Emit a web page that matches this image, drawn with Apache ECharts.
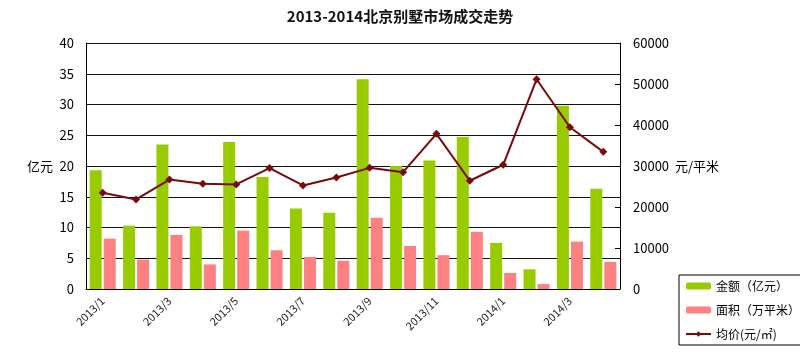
<!DOCTYPE html>
<html>
<head>
<meta charset="utf-8">
<script src="https://cdn.jsdelivr.net/npm/echarts@6/dist/echarts.min.js"></script>
<style>
  html, body { margin: 0; padding: 0; background: #fff; }
  #chart { width: 800px; height: 352px; }
</style>
</head>
<body>
<div id="chart"></div>
<script>
// 月份
const months = ['2013/1', '2013/2', '2013/3', '2013/4', '2013/5', '2013/6', '2013/7', '2013/8',
  '2013/9', '2013/10', '2013/11', '2013/12', '2014/1', '2014/2', '2014/3', '2014/4']
// 金额（亿元）
const amount = [19.3, 10.3, 23.5, 10.2, 23.9, 18.2, 13.1, 12.4, 34.1, 20.0, 20.9, 24.7, 7.5, 3.2, 29.8, 16.3]
// 面积（万平米）
const area = [8.2, 4.8, 8.8, 4.0, 9.5, 6.3, 5.2, 4.6, 11.6, 7.0, 5.5, 9.3, 2.6, 0.8, 7.7, 4.4]
// 均价（元/平米）
const price = [23450, 21850, 26700, 25650, 25500, 29500, 25250, 27200, 29550, 28500, 37850, 26400, 30300, 51150, 39450, 33450]

const font = '"Noto Sans CJK SC", "Liberation Sans", sans-serif'
const chart = echarts.init(document.getElementById('chart'), null, { renderer: 'canvas' })

const option = {
  animation: false,
  backgroundColor: '#fff',
  textStyle: { fontFamily: font, color: '#000' },
  title: {
    text: '2013-2014北京别墅市场成交走势',
    left: 'center',
    top: 4,
    textStyle: { fontSize: 15, fontWeight: 'bold', color: '#111', fontFamily: font }
  },
  legend: {
    orient: 'vertical',
    left: 679,
    top: 275,
    padding: [5, 8, 5, 6],
    itemGap: 12,
    itemWidth: 25,
    itemHeight: 7,
    borderColor: '#000',
    borderWidth: 1,
    textStyle: { fontSize: 12, color: '#000', fontFamily: font },
    data: ['金额（亿元）', '面积（万平米）', '均价(元/㎡)']
  },
  grid: {
    left: 86,
    right: 180,
    top: 43,
    bottom: 63
  },
  xAxis: {
    type: 'category',
    data: months,
    axisLine: { lineStyle: { color: '#000', width: 1 } },
    axisTick: { show: false },
    axisLabel: {
      interval: 1,
      rotate: 45,
      fontSize: 11,
      color: '#222',
      margin: 10
    }
  },
  yAxis: [
    {
      type: 'value',
      min: 0,
      max: 40,
      interval: 5,
      name: '亿元',
      nameLocation: 'middle',
      nameRotate: 0,
      nameGap: 33,
      nameTextStyle: { fontSize: 13, color: '#000' },
      axisLine: { show: true, lineStyle: { color: '#000' } },
      axisTick: { show: false },
      axisLabel: { fontSize: 13, color: '#000', margin: 12 },
      splitLine: { lineStyle: { color: '#111', width: 1 } }
    },
    {
      type: 'value',
      min: 0,
      max: 60000,
      interval: 10000,
      name: '元/平米',
      nameLocation: 'middle',
      nameRotate: 0,
      nameGap: 55,
      nameTextStyle: { fontSize: 13, color: '#000' },
      axisLine: { show: true, lineStyle: { color: '#000' } },
      axisTick: { show: true, inside: true, length: 5, lineStyle: { color: '#000' } },
      axisLabel: { fontSize: 13, color: '#000', margin: 13, formatter: v => String(v) },
      splitLine: { show: false }
    }
  ],
  series: [
    {
      name: '金额（亿元）',
      type: 'bar',
      data: amount,
      barWidth: 12,
      barGap: '17%',
      itemStyle: { color: '#99cc00' }
    },
    {
      name: '面积（万平米）',
      type: 'bar',
      data: area,
      barWidth: 12,
      itemStyle: { color: '#ff8080' }
    },
    {
      name: '均价(元/㎡)',
      type: 'line',
      yAxisIndex: 1,
      data: price,
      symbol: 'diamond',
      symbolSize: 8,
      lineStyle: { color: '#7a0a0a', width: 2 },
      itemStyle: { color: '#7a0a0a' }
    }
  ]
}
chart.setOption(option)
</script>
</body>
</html>
